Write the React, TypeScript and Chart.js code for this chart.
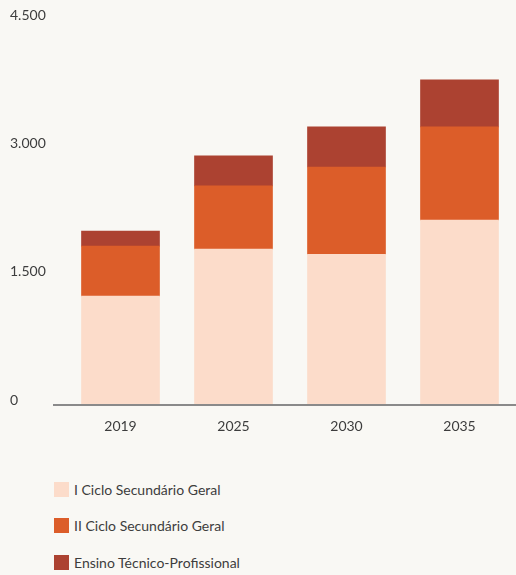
import React, { useEffect, useRef } from "react";
import { Chart, registerables } from "chart.js";

Chart.register(...registerables);

const categories = ["2019", "2025", "2030", "2035"];
const seriesNames = ["I Ciclo Secundário Geral", "II Ciclo Secundário Geral", "Ensino Técnico-Profissional"];
const cicloI = [1260, 1810, 1750, 2150];
const cicloII = [585, 740, 1020, 1090];
const tecnico = [175, 350, 470, 550];
const yTicks = [0, 1500, 3000, 4500];
const colors = ["#FCDCCA", "#DC5D29", "#AC4231"];

const FONT = "Lato, 'Open Sans', sans-serif";
const TEXT = "#3d3d3d";

const fmt = (v: number) => v.toLocaleString("de-DE");

const axisLine = {
  id: "axisLine",
  afterDatasetsDraw(chart: any) {
    const { ctx, chartArea } = chart;
    ctx.save();
    ctx.strokeStyle = "#8a8a8a";
    ctx.lineWidth = 2;
    ctx.beginPath();
    ctx.moveTo(chartArea.left - 11, chartArea.bottom + 1);
    ctx.lineTo(chart.width, chartArea.bottom + 1);
    ctx.stroke();
    ctx.restore();
  },
};

export default function App() {
  const ref = useRef<HTMLCanvasElement>(null);
  useEffect(() => {
    document.body.style.margin = "0";
    document.body.style.background = "#F9F8F4";
    const chart = new Chart(ref.current!, {
      type: "bar",
      data: {
        labels: categories,
        datasets: [cicloI, cicloII, tecnico].map((d, i) => ({
          label: seriesNames[i],
          data: d,
          backgroundColor: colors[i],
          borderWidth: 0,
          barThickness: 78,
        })),
      },
      options: {
        animation: false,
        responsive: false,
        layout: { padding: { left: 10, top: 19, right: 0, bottom: 0 } },
        plugins: { legend: { display: false }, tooltip: { enabled: false } },
        scales: {
          x: {
            stacked: true,
            grid: { display: false, drawTicks: false },
            border: { display: false },
            ticks: { color: TEXT, font: { family: FONT, size: 14 }, padding: 14 },
            afterFit: (s: any) => { s.height = 56; },
          },
          y: {
            stacked: true,
            min: 0,
            max: 4500,
            grid: { display: false, drawTicks: false },
            border: { display: false },
            afterBuildTicks: (s: any) => { s.ticks = yTicks.map((v) => ({ value: v })); },
            ticks: {
              color: TEXT,
              font: { family: FONT, size: 14 },
              crossAlign: "far",
              labelOffset: -4,
              callback: (v: any) => fmt(Number(v)),
            },
            afterFit: (s: any) => { s.width = 54; },
          },
        },
      },
      plugins: [axisLine],
    });
    return () => chart.destroy();
  }, []);

  return (
    <div style={{ position: "absolute", left: 0, top: 0, width: 516, height: 575, background: "#F9F8F4", fontFamily: FONT }}>
      <canvas ref={ref} width={516} height={460} style={{ display: "block" }} />
      <div style={{ position: "absolute", left: 54, top: 471 }}>
        {seriesNames.map((n, i) => (
          <div key={n} style={{ display: "flex", alignItems: "center", height: 36.5 }}>
            <span style={{ width: 15, height: 15, background: colors[i], display: "inline-block", marginRight: 5 }} />
            <span style={{ fontSize: 14, color: TEXT }}>{n}</span>
          </div>
        ))}
      </div>
    </div>
  );
}
